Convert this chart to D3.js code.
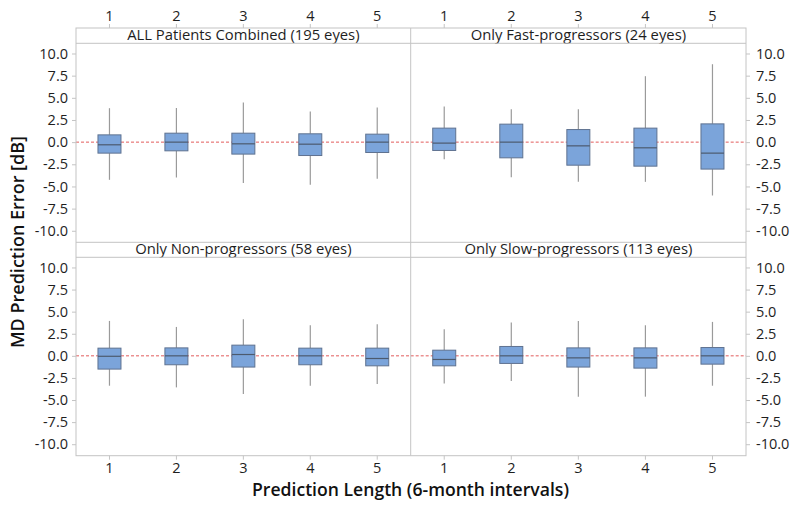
<!DOCTYPE html>
<html><head><meta charset="utf-8">
<script src="https://cdn.jsdelivr.net/npm/d3@7"></script>
<style>
html,body{margin:0;padding:0;background:#fff;}
svg{display:block;font-family:"Open Sans","Noto Sans",sans-serif;}
</style></head>
<body><svg id="chart" width="800" height="510"></svg>
<script>
const categories = ["1","2","3","4","5"];
const panelTitles = ["ALL Patients Combined (195 eyes)","Only Fast-progressors (24 eyes)","Only Non-progressors (58 eyes)","Only Slow-progressors (113 eyes)"];
const yTicks = [10,7.5,5,2.5,0,-2.5,-5,-7.5,-10];
// per panel: [whiskerLow, q1, median, q3, whiskerHigh] for lengths 1..5
const allPatients = [
  [-4.25,-1.24,-0.30,0.82,3.83],
  [-3.99,-0.98,0.00,1.01,3.85],
  [-4.62,-1.35,-0.19,1.01,4.47],
  [-4.81,-1.51,-0.23,0.94,3.45],
  [-4.14,-1.17,0.00,0.90,3.90]
];
const fastProgressors = [
  [-1.92,-0.94,-0.11,1.58,4.01],
  [-3.95,-1.77,0.00,2.03,3.72],
  [-4.48,-2.60,-0.42,1.42,3.72],
  [-4.48,-2.71,-0.64,1.58,7.44],
  [-6.02,-3.04,-1.24,2.06,8.79]
];
const nonProgressors = [
  [-3.38,-1.50,-0.05,0.87,3.95],
  [-3.57,-1.01,0.00,0.90,3.27],
  [-4.32,-1.27,0.15,1.21,4.14],
  [-3.38,-1.01,0.00,0.87,3.46],
  [-3.19,-1.13,-0.30,0.87,3.57]
];
const slowProgressors = [
  [-3.12,-1.13,-0.41,0.64,3.01],
  [-2.85,-0.86,0.00,1.06,3.77],
  [-4.62,-1.27,-0.23,0.90,3.95],
  [-4.62,-1.39,-0.23,0.90,3.46],
  [-3.38,-0.94,0.00,0.94,3.84]
];
const panelData = [allPatients, fastProgressors, nonProgressors, slowProgressors];

const svg = d3.select("#chart");
const L = 76, R = 746, M = 410.7;
const stripTop = [28, 242.3], stripBot = [43.3, 257.3], plotBot = [242.3, 455.7];
const frameCol = "#c4c4c4";
const textCol = "#1e1e1e";
const tickFont = 14.5;

const xScales = [
  d3.scaleBand().domain(categories).range([L, M]).padding(0),
  d3.scaleBand().domain(categories).range([M, R]).padding(0)
];
const yScales = [0,1].map(r => d3.scaleLinear().domain([-11.3, 11.15]).range([plotBot[r], stripBot[r]]));

const boxW = 23;

panelData.forEach((data, i) => {
  const col = i % 2, row = Math.floor(i / 2);
  const x = xScales[col], y = yScales[row];
  const g = svg.append("g");
  const x0 = col === 0 ? L : M, x1 = col === 0 ? M : R;
  // zero reference line
  g.append("line").attr("x1", x0).attr("x2", x1).attr("y1", y(0)).attr("y2", y(0))
    .attr("stroke", "#e25c5c").attr("stroke-width", 1).attr("stroke-dasharray", "3,2");
  data.forEach((d, j) => {
    const cx = x(categories[j]) + x.bandwidth() / 2;
    g.append("line").attr("x1", cx).attr("x2", cx).attr("y1", y(d[4])).attr("y2", y(d[3]))
      .attr("stroke", "#9a9a9a").attr("stroke-width", 1.2);
    g.append("line").attr("x1", cx).attr("x2", cx).attr("y1", y(d[1])).attr("y2", y(d[0]))
      .attr("stroke", "#9a9a9a").attr("stroke-width", 1.2);
    g.append("rect").attr("x", cx - boxW / 2).attr("y", y(d[3]))
      .attr("width", boxW).attr("height", y(d[1]) - y(d[3]))
      .attr("fill", "#7ba4da").attr("stroke", "#5f7290").attr("stroke-width", 1);
    g.append("line").attr("x1", cx - boxW / 2).attr("x2", cx + boxW / 2)
      .attr("y1", y(d[2])).attr("y2", y(d[2]))
      .attr("stroke", "#4c5a6e").attr("stroke-width", 1.2);
  });
  // strip title
  svg.append("text").attr("x", (x0 + x1) / 2).attr("y", stripBot[row] - 3.2)
    .attr("text-anchor", "middle").attr("font-size", 14.8).attr("fill", textCol)
    .text(panelTitles[i]);
});

// frames
const fg = svg.append("g").attr("fill", "none").attr("stroke", frameCol).attr("stroke-width", 1);
fg.append("rect").attr("x", L).attr("y", stripTop[0]).attr("width", R - L).attr("height", plotBot[1] - stripTop[0]);
fg.append("line").attr("x1", M).attr("x2", M).attr("y1", stripTop[0]).attr("y2", plotBot[1]);
[stripBot[0], stripTop[1], stripBot[1]].forEach(yy => {
  fg.append("line").attr("x1", L).attr("x2", R).attr("y1", yy).attr("y2", yy);
});

function styleAxis(sel) {
  sel.select(".domain").remove();
  sel.selectAll(".tick line").attr("stroke", frameCol);
  sel.selectAll(".tick text").attr("fill", textCol).attr("font-size", tickFont)
    .attr("font-family", "'Open Sans','Noto Sans',sans-serif");
}
const fmt = d => d.toFixed(1);

// y axes: left for left column, right for right column
[0,1].forEach(r => {
  svg.append("g").attr("transform", `translate(${L},0)`)
    .call(d3.axisLeft(yScales[r]).tickValues(yTicks).tickFormat(fmt).tickSize(4).tickPadding(4))
    .call(styleAxis);
  svg.append("g").attr("transform", `translate(${R},0)`)
    .call(d3.axisRight(yScales[r]).tickValues(yTicks).tickFormat(fmt).tickSize(4).tickPadding(6))
    .call(styleAxis);
});
// x axes top and bottom
[0,1].forEach(c => {
  svg.append("g").attr("transform", `translate(0,${stripTop[0]})`)
    .call(d3.axisTop(xScales[c]).tickSize(4).tickPadding(3))
    .call(styleAxis);
  svg.append("g").attr("transform", `translate(0,${plotBot[1]})`)
    .call(d3.axisBottom(xScales[c]).tickSize(4).tickPadding(3))
    .call(styleAxis);
});

// axis titles
svg.append("text").attr("transform", `translate(24,242) rotate(-90)`)
  .attr("text-anchor", "middle").attr("font-size", 18).attr("font-weight", 600).attr("fill", "#111")
  .text("MD Prediction Error [dB]");
svg.append("text").attr("x", 410.5).attr("y", 496)
  .attr("text-anchor", "middle").attr("font-size", 17.6).attr("font-weight", 600).attr("fill", "#111")
  .text("Prediction Length (6-month intervals)");
</script></body></html>
